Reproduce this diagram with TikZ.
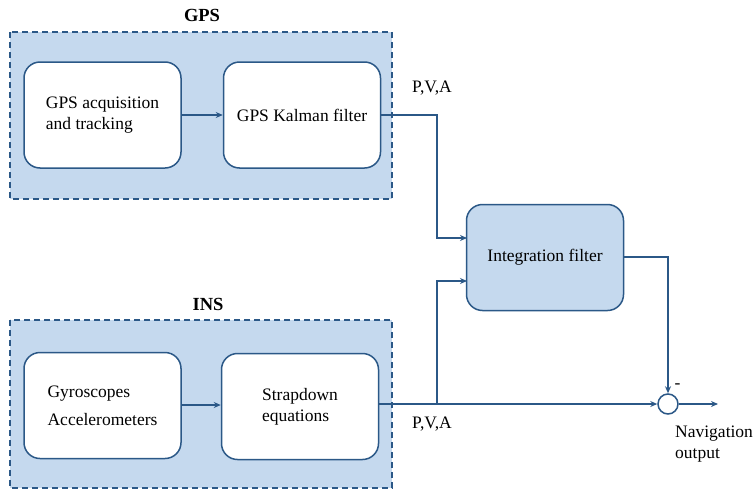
\documentclass[tikz,border=0pt]{standalone}
\usepackage{fontspec}
\setmainfont{Liberation Serif}
\usetikzlibrary{arrows.meta}
\definecolor{lblue}{HTML}{C5D9EE}
\definecolor{dblue}{HTML}{2B5887}
\begin{document}
\begin{tikzpicture}[x=1pt,y=-1pt,
  group/.style={draw=dblue,fill=lblue,dashed,line width=1.6pt,dash pattern=on 6pt off 4pt},
  blockw/.style={draw=dblue,fill=white,rounded corners=16pt,line width=1.5pt,minimum width=157pt,minimum height=106pt,align=left,font=\fontsize{17.5}{21}\selectfont},
  blockb/.style={blockw,fill=lblue},
  conn/.style={draw=dblue,line width=1.3pt},
  arr/.style={conn,-{Stealth[length=7pt,width=6pt]}},
  lbl/.style={font=\fontsize{17.5}{21}\selectfont},
  glbl/.style={font=\bfseries\fontsize{18.5}{21}\selectfont}]
\useasboundingbox (0,0) rectangle (754,490);
% groups
\path[group] (10,32) rectangle (392,199);
\path[group] (10,320) rectangle (392,488);
\node[glbl] (gpslbl) at (202,15) {GPS};
\node[glbl] (inslbl) at (208,304) {INS};
% blocks
\node[blockw] (acq) at (102.5,115) {GPS acquisition\\and tracking};
\node[blockw] (kal) at (302,115) {GPS Kalman filter};
\node[blockb] (int) at (545,257.5) {Integration filter};
\node[blockw] (gyro) at (102.5,405.5) {Gyroscopes\\[7pt]Accelerometers};
\node[blockw] (strap) at (300,406.5) {Strapdown\\equations};
\node[draw=dblue,fill=white,circle,line width=1.5pt,minimum size=20pt,inner sep=0pt] (sum) at (668,404) {};
% coordinates
\coordinate (j1) at (437,115);
\coordinate (j2) at (437,404);
\coordinate (iin1) at (467,238);
\coordinate (iin2) at (467,281);
\coordinate (out) at (718,404);
% connectors
\draw[arr] (acq.east |- 0,115) -- (kal.west |- 0,115);
\draw[arr] (gyro.east |- 0,405) -- (strap.west |- 0,405);
\draw[arr] (kal.east |- 0,115) -- (j1) |- (iin1);
\draw[arr] (strap.east |- 0,404) -- (sum.west);
\draw[arr] (j2) |- (iin2);
\draw[arr] (int.east |- 0,257) -| (sum.north);
\draw[arr] (sum.east) -- (out);
% labels
\node[lbl] (pva1) at (432,88) {P,V,A};
\node[lbl] (pva2) at (432,424) {P,V,A};
\node[lbl,anchor=west] (minus) at (671,386) {-};
\node[lbl,align=left,anchor=north west,inner sep=0pt] (nav) at (675,426) {Navigation\\output};
\end{tikzpicture}
\end{document}
